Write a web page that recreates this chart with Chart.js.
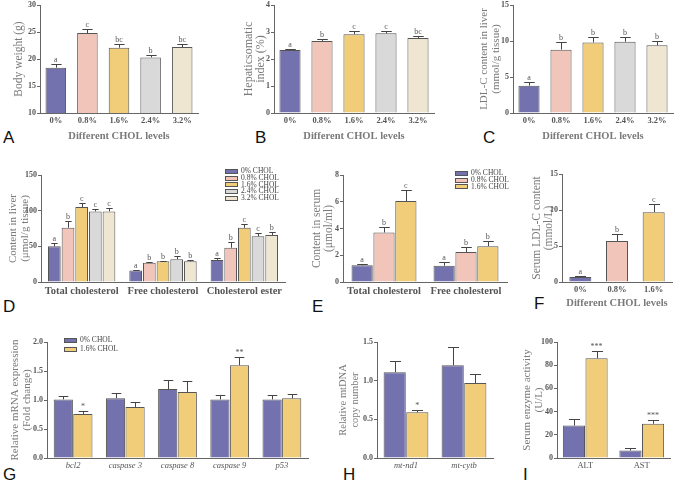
<!DOCTYPE html>
<html>
<head>
<meta charset="utf-8">
<script src="https://cdn.jsdelivr.net/npm/chart.js@4.4.1/dist/chart.umd.min.js"></script>
<style>
  body { margin: 0; background: #fff; width: 676px; height: 485px; position: relative; overflow: hidden; }
  canvas { position: absolute; }
  .tag { position: absolute; font: 17px "Liberation Sans", Arial, sans-serif; color: #111; }
  .leg { position: absolute; font: 7.5px "Liberation Serif", serif; color: #444; white-space: nowrap; }
  .leg div { height: 6.8px; line-height: 6.8px; }
  .leg span { display: inline-block; width: 11px; height: 3px; border: 1px solid #555; margin-right: 3px; vertical-align: middle; }
</style>
</head>
<body>
<div class="tag" style="left:3px;top:128px">A</div>
<div class="tag" style="left:255px;top:128px">B</div>
<div class="tag" style="left:483px;top:128px">C</div>
<div class="tag" style="left:3px;top:297px">D</div>
<div class="tag" style="left:312px;top:297px">E</div>
<div class="tag" style="left:534px;top:294px">F</div>
<div class="tag" style="left:3px;top:465px">G</div>
<div class="tag" style="left:343px;top:465px">H</div>
<div class="tag" style="left:523px;top:465px">I</div>

<script>
// ---- data ----
const levels5 = ['0%', '0.8%', '1.6%', '2.4%', '3.2%'];
const levels3 = ['0%', '0.8%', '1.6%'];
const cholNames = ['0% CHOL', '0.8% CHOL', '1.6% CHOL', '2.4% CHOL', '3.2% CHOL'];
const cholColors = ['#7472ae', '#f2c5ba', '#f1cd79', '#d9d9d9', '#eee6d1'];

const bodyWeight = [18.4, 24.8, 22.1, 20.3, 22.2];
const bodyWeightErr = [0.6, 0.7, 0.6, 0.5, 0.6];
const bodyWeightSig = ['a', 'c', 'bc', 'b', 'bc'];

const hsi = [2.33, 2.67, 2.92, 2.95, 2.78];
const hsiErr = [0.04, 0.08, 0.1, 0.1, 0.08];
const hsiSig = ['a', 'b', 'c', 'c', 'bc'];

const liverLdl = [3.8, 8.8, 9.8, 9.9, 9.4];
const liverLdlErr = [0.5, 1.1, 0.8, 0.7, 0.6];
const liverLdlSig = ['a', 'b', 'b', 'b', 'b'];

const liverGroups = ['Total cholesterol', 'Free cholesterol', 'Cholesterol ester'];
// one row per CHOL level: [total, free, ester]
const liverContent = [[50, 16, 31], [76, 27, 48], [105, 29, 76], [99, 32, 64], [99, 29, 66]];
const liverContentErr = [[4, 1, 3], [10, 1.5, 8], [6, 1, 6], [4, 5, 5], [5, 2, 4]];
const liverContentSig = [['a', 'a', 'a'], ['b', 'b', 'b'], ['c', 'b', 'c'], ['c', 'b', 'c'], ['c', 'b', 'b']];

const serumGroups = ['Total cholesterol', 'Free cholesterol'];
const serumContent = [[1.25, 1.22], [3.7, 2.25], [6.05, 2.68]];
const serumContentErr = [[0.1, 0.27], [0.4, 0.35], [0.85, 0.4]];
const serumContentSig = [['a', 'a'], ['b', 'b'], ['c', 'b']];

const serumLdl = [0.7, 5.7, 9.7];
const serumLdlErr = [0.2, 1.0, 1.1];
const serumLdlSig = ['a', 'b', 'c'];

const genes = ['bcl2', 'caspase 3', 'caspase 8', 'caspase 9', 'p53'];
const pairNames = ['0% CHOL', '1.6% CHOL'];
const pairColors = ['#7472ae', '#f1cd79'];
const mrnaCtrl = [1.01, 1.03, 1.19, 1.01, 1.01];
const mrnaCtrlErr = [0.06, 0.09, 0.15, 0.08, 0.07];
const mrnaChol = [0.76, 0.88, 1.14, 1.60, 1.03];
const mrnaCholErr = [0.05, 0.09, 0.19, 0.15, 0.07];
const mrnaCholSig = ['*', '', '', '**', ''];

const mtGenes = ['mt-nd1', 'mt-cytb'];
const mtCtrl = [1.11, 1.20];
const mtCtrlErr = [0.15, 0.23];
const mtChol = [0.59, 0.97];
const mtCholErr = [0.03, 0.11];
const mtCholSig = ['*', ''];

const enzymes = ['ALT', 'AST'];
const enzCtrl = [28, 6.5];
const enzCtrlErr = [6, 2.5];
const enzChol = [86, 29.5];
const enzCholErr = [6, 3.5];
const enzCholSig = ['***', '***'];

// ---- drawing ----
const serif = '"Liberation Serif", "Times New Roman", serif';

const errorBars = {
  id: 'errorBars',
  afterDatasetsDraw(chart) {
    const ctx = chart.ctx, y = chart.scales.y;
    chart.data.datasets.forEach((ds, i) => {
      chart.getDatasetMeta(i).data.forEach((bar, j) => {
        const e = ds.err ? ds.err[j] : 0;
        const top = Math.round(y.getPixelForValue(ds.data[j] + e)) + 0.5;
        const cap = bar.width * 0.25;
        const bx = Math.round(bar.x) + 0.5;
        ctx.save();
        ctx.strokeStyle = '#444';
        ctx.lineWidth = 1;
        ctx.beginPath();
        ctx.moveTo(bx, bar.y);
        ctx.lineTo(bx, top);
        ctx.moveTo(bx - cap, top);
        ctx.lineTo(bx + cap, top);
        ctx.stroke();
        if (ds.sig && ds.sig[j]) {
          ctx.fillStyle = '#555';
          ctx.font = '8px ' + serif;
          ctx.textAlign = 'center';
          ctx.textBaseline = 'bottom';
          ctx.fillText(ds.sig[j], bar.x, top - 1);
        }
        ctx.restore();
      });
    });
  }
};

function panel(p) {
  const c = document.createElement('canvas');
  const left = p.plot[0] - p.yw - 2, top = p.plot[1] - 8;
  c.width = p.plot[2] + 4 - left;
  c.height = p.plot[3] + p.xh + 2 - top;
  c.style.left = left + 'px';
  c.style.top = top + 'px';
  document.body.appendChild(c);
  new Chart(c.getContext('2d'), {
    type: 'bar',
    data: { labels: p.labels, datasets: p.datasets },
    options: {
      responsive: false,
      animation: false,
      layout: { padding: { left: 2, top: 8, right: 4, bottom: 2 } },
      datasets: { bar: { categoryPercentage: p.cat, barPercentage: p.bar, borderWidth: 1, borderColor: '#555' } },
      plugins: { legend: { display: false }, tooltip: { enabled: false } },
      scales: {
        x: {
          grid: { display: false, drawTicks: false },
          border: { color: '#666' },
          ticks: { font: p.xFont || { family: serif, size: 8.5, weight: 'bold' }, color: '#555', padding: 3, maxRotation: 0, autoSkip: false },
          title: p.xTitle
            ? { display: true, text: p.xTitle, font: { family: serif, size: 10.5, weight: 'bold' }, color: '#7a7a7a', padding: 0 }
            : { display: false },
          afterFit: s => { s.height = p.xh; }
        },
        y: {
          min: p.min, max: p.max,
          ticks: { stepSize: p.step, font: { family: serif, size: 8, weight: 'bold' }, color: '#555', padding: 1, callback: p.fmt || (v => v) },
          grid: { drawOnChartArea: false, drawTicks: true, tickLength: 3, color: '#666' },
          border: { color: '#666' },
          title: { display: true, text: p.yTitle, font: { family: serif, size: p.ySize, lineHeight: 12 / p.ySize }, color: '#7a7a7a', padding: 0 },
          afterFit: s => { s.width = p.yw; }
        }
      }
    },
    plugins: [errorBars]
  });
}

function legend(x, y, names, colors, pitch) {
  const d = document.createElement('div');
  d.className = 'leg';
  d.style.left = x + 'px';
  d.style.top = y + 'px';
  names.forEach((n, i) => {
    const r = document.createElement('div');
    if (pitch) { r.style.height = pitch + 'px'; r.style.lineHeight = pitch + 'px'; }
    const s = document.createElement('span');
    s.style.background = colors[i];
    r.appendChild(s);
    r.appendChild(document.createTextNode(n));
    d.appendChild(r);
  });
  document.body.appendChild(d);
}

const oneSeries = (vals, err, sig, colors) => [{ data: vals, err: err, sig: sig, backgroundColor: colors }];
const bigCat = { family: serif, size: 10.5, weight: 'bold' };
const italicCat = { family: serif, size: 8.5, style: 'italic' };
const plainCat = { family: serif, size: 8.5 };
const oneDec = v => v.toFixed(1);

// A
panel({ plot: [40, 5, 198, 113], yw: 27, xh: 30, labels: levels5, min: 10, max: 30, step: 5, ySize: 11.5,
  yTitle: 'Body weight (g)', xTitle: 'Different CHOL levels', cat: 1, bar: 0.65,
  datasets: oneSeries(bodyWeight, bodyWeightErr, bodyWeightSig, cholColors) });
// B
panel({ plot: [274, 5, 434, 113], yw: 31, xh: 30, labels: levels5, min: 0, max: 4, step: 1, ySize: 12,
  yTitle: ['Hepaticsomatic', 'index (%)'], xTitle: 'Different CHOL levels', cat: 1, bar: 0.66,
  datasets: oneSeries(hsi, hsiErr, hsiSig, cholColors) });
// C
panel({ plot: [513, 5, 673, 113], yw: 35, xh: 30, labels: levels5, min: 0, max: 15, step: 5, ySize: 11,
  yTitle: ['LDL-C content in liver', '(mmol/g tissue)'], xTitle: 'Different CHOL levels', cat: 1, bar: 0.66,
  datasets: oneSeries(liverLdl, liverLdlErr, liverLdlSig, cholColors) });
// D
panel({ plot: [41, 175, 285, 282], yw: 34, xh: 16, labels: liverGroups, min: 0, max: 150, step: 50, ySize: 11,
  yTitle: ['Content in liver', '(\u03bcmol/g tissue)'], cat: 0.84, bar: 0.93, xFont: bigCat,
  datasets: liverContent.map((v, i) => ({ label: cholNames[i], data: v, err: liverContentErr[i], sig: liverContentSig[i], backgroundColor: cholColors[i] })) });
legend(225, 168, cholNames, cholColors);
// E
panel({ plot: [343, 175, 507, 282], yw: 32, xh: 16, labels: serumGroups, min: 0, max: 8, step: 2, ySize: 11.5,
  yTitle: ['Content in serum', '(\u03bcmol/ml)'], cat: 0.8, bar: 0.97, xFont: bigCat,
  datasets: serumContent.map((v, i) => ({ label: cholNames[i], data: v, err: serumContentErr[i], sig: serumContentSig[i], backgroundColor: cholColors[i] })) });
legend(455, 170, cholNames.slice(0, 3), cholColors.slice(0, 3));
// F
panel({ plot: [562, 174, 672, 282], yw: 31, xh: 28, labels: levels3, min: 0, max: 15, step: 5, ySize: 11.5,
  yTitle: ['Serum LDL-C content', '(mmol/L)'], xTitle: 'Different CHOL levels', cat: 1, bar: 0.6,
  datasets: oneSeries(serumLdl, serumLdlErr, serumLdlSig, cholColors.slice(0, 3)) });
// G
panel({ plot: [47, 342, 308, 458], yw: 38, xh: 15, labels: genes, min: 0, max: 2, step: 0.5, fmt: oneDec, ySize: 11,
  yTitle: ['Relative mRNA expression', '(Fold change)'], cat: 0.75, bar: 0.98, xFont: italicCat,
  datasets: [
    { label: pairNames[0], data: mrnaCtrl, err: mrnaCtrlErr, backgroundColor: pairColors[0] },
    { label: pairNames[1], data: mrnaChol, err: mrnaCholErr, sig: mrnaCholSig, backgroundColor: pairColors[1] }
  ] });
legend(64, 335, pairNames, pairColors, 9);
// H
panel({ plot: [377, 342, 493, 458], yw: 40, xh: 15, labels: mtGenes, min: 0, max: 1.5, step: 0.5, fmt: oneDec, ySize: 10.5,
  yTitle: ['Relative mtDNA', 'copy number'], cat: 0.78, bar: 0.98, xFont: italicCat,
  datasets: [
    { label: pairNames[0], data: mtCtrl, err: mtCtrlErr, backgroundColor: pairColors[0] },
    { label: pairNames[1], data: mtChol, err: mtCholErr, sig: mtCholSig, backgroundColor: pairColors[1] }
  ] });
// I
panel({ plot: [557, 342, 670, 458], yw: 36, xh: 15, labels: enzymes, min: 0, max: 100, step: 20, ySize: 11,
  yTitle: ['Serum enzyme activity', '(U/L)'], cat: 0.8, bar: 0.98, xFont: plainCat,
  datasets: [
    { label: pairNames[0], data: enzCtrl, err: enzCtrlErr, backgroundColor: pairColors[0] },
    { label: pairNames[1], data: enzChol, err: enzCholErr, sig: enzCholSig, backgroundColor: pairColors[1] }
  ] });
</script>
</body>
</html>
